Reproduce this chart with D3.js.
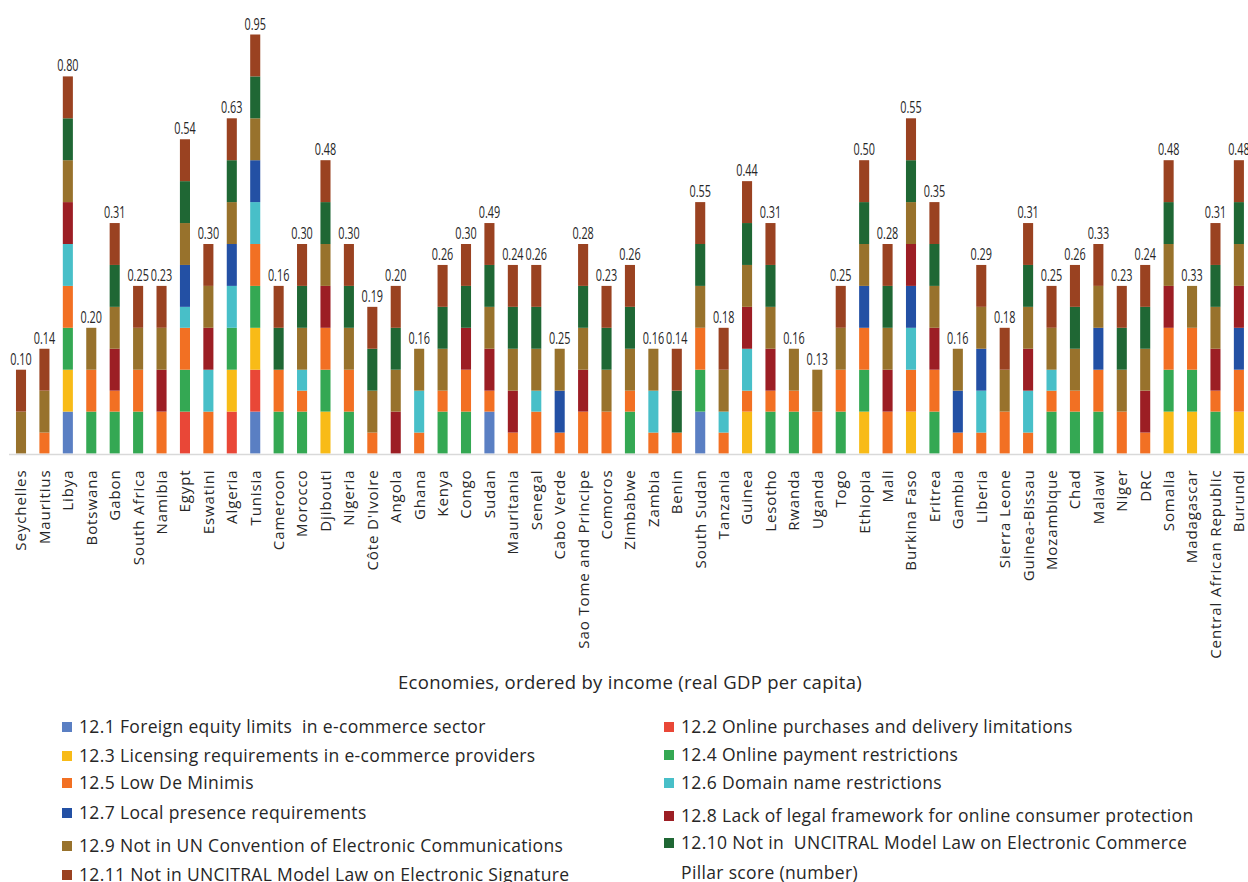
<!DOCTYPE html>
<html>
<head>
<meta charset="utf-8">
<script src="https://cdn.jsdelivr.net/npm/d3@7"></script>
<style>
  html, body { margin: 0; padding: 0; background: #fff; overflow: hidden; }
  svg { display: block; }
</style>
</head>
<body>
<svg id="chart" width="1248" height="882"></svg>
<script>
// Economies, ordered by income (real GDP per capita)
const countries = [
  "Seychelles", "Mauritius", "Libya", "Botswana", "Gabon", "South Africa", "Namibia", "Egypt",
  "Eswatini", "Algeria", "Tunisia", "Cameroon", "Morocco", "Djibouti", "Nigeria", "Côte D'Ivoire",
  "Angola", "Ghana", "Kenya", "Congo", "Sudan", "Mauritania", "Senegal", "Cabo Verde",
  "Sao Tome and Principe", "Comoros", "Zimbabwe", "Zambia", "Benin", "South Sudan", "Tanzania",
  "Guinea", "Lesotho", "Rwanda", "Uganda", "Togo", "Ethiopia", "Mali", "Burkina Faso", "Eritrea",
  "Gambia", "Liberia", "Sierra Leone", "Guinea-Bissau", "Mozambique", "Chad", "Malawi", "Niger",
  "DRC", "Somalia", "Madagascar", "Central African Republic", "Burundi"
];

// Pillar score (number), printed above each stack
const pillarScore = [
  0.10, 0.14, 0.80, 0.20, 0.31, 0.25, 0.23, 0.54, 0.30, 0.63, 0.95, 0.16, 0.30, 0.48, 0.30, 0.19,
  0.20, 0.16, 0.26, 0.30, 0.49, 0.24, 0.26, 0.25, 0.28, 0.23, 0.26, 0.16, 0.14, 0.55, 0.18, 0.44,
  0.31, 0.16, 0.13, 0.25, 0.50, 0.28, 0.55, 0.35, 0.16, 0.29, 0.18, 0.31, 0.25, 0.26, 0.33, 0.23,
  0.24, 0.48, 0.33, 0.31, 0.48
];

// Indicator scores per economy (1 = full restriction, 0.5 = partial)
const ind12_1 = [0,0,1,0,0,0,0,0,0,0, 1,0,0,0,0,0,0,0,0,0, 1,0,0,0,0,0,0,0,0,1, 0,0,0,0,0,0,0,0,0,0, 0,0,0,0,0,0,0,0,0,0, 0,0,0];
const ind12_2 = [0,0,0,0,0,0,0,1,0,1, 1,0,0,0,0,0,0,0,0,0, 0,0,0,0,0,0,0,0,0,0, 0,0,0,0,0,0,0,0,0,0, 0,0,0,0,0,0,0,0,0,0, 0,0,0];
const ind12_3 = [0,0,1,0,0,0,0,0,0,1, 1,0,0,1,0,0,0,0,0,0, 0,0,0,0,0,0,0,0,0,0, 0,1,0,0,0,0,1,0,1,0, 0,0,0,0,0,0,0,0,0,1, 1,0,1];
const ind12_4 = [0,0,1,1,1,1,0,1,0,1, 1,1,1,1,1,0,0,0,1,1, 0,0,0,0,0,0,1,0,0,1, 0,0,1,1,0,1,1,0,0,1, 0,0,0,0,1,1,1,0,0,1, 1,1,0];
const ind12_5 = [0,0.5,1,1,0.5,1,1,1,1,0, 1,1,0.5,1,1,0.5,0,0.5,0.5,1, 0.5,0.5,1,0.5,1,1,0.5,0.5,0.5,1, 0.5,0.5,0.5,0.5,1,1,1,1,1,1, 0.5,0.5,1,0.5,0.5,0.5,1,1,0.5,1, 1,0.5,1];
const ind12_6 = [0,0,1,0,0,0,0,0.5,1,1, 1,0,0.5,0,0,0,0,1,0,0, 0,0,0.5,0,0,0,0,1,0,0, 0.5,1,0,0,0,0,0,0,1,0, 0,1,0,1,0.5,0,0,0,0,0, 0,0,0];
const ind12_7 = [0,0,0,0,0,0,0,1,0,1, 1,0,0,0,0,0,0,0,0,0, 0,0,0,1,0,0,0,0,0,0, 0,0,0,0,0,0,1,0,1,0, 1,1,0,0,0,0,1,0,0,0, 0,0,1];
const ind12_8 = [0,0,1,0,1,0,1,0,1,0, 0,0,0,1,0,0,1,0,0,1, 1,1,0,0,1,0,0,0,0,0, 0,1,1,0,0,0,0,1,1,1, 0,0,0,1,0,0,0,0,1,1, 0,1,1];
const ind12_9 = [1,1,1,1,1,1,1,1,1,1, 1,0,1,1,1,1,1,1,1,0, 1,1,1,1,1,1,1,1,0,1, 1,1,1,1,1,1,1,1,1,1, 1,1,1,1,1,1,1,1,1,1, 1,1,1];
const ind12_10 = [0,0,1,0,1,0,0,1,0,1, 1,1,1,1,1,1,1,0,1,1, 1,1,1,0,1,1,1,0,1,1, 0,1,1,0,0,0,1,1,1,1, 0,0,0,1,0,1,0,1,1,1, 0,1,1];
const ind12_11 = [1,1,1,0,1,1,1,1,1,1, 1,1,1,1,1,1,1,0,1,1, 1,1,1,0,1,1,1,0,1,1, 1,1,1,0,0,1,1,1,1,1, 0,1,1,1,1,1,1,1,1,1, 0,1,1];

const indicatorKeys = ["12.1","12.2","12.3","12.4","12.5","12.6","12.7","12.8","12.9","12.10","12.11"];
const indicatorValues = [ind12_1, ind12_2, ind12_3, ind12_4, ind12_5, ind12_6, ind12_7, ind12_8, ind12_9, ind12_10, ind12_11];
const indicatorLabels = [
  "12.1 Foreign equity limits  in e-commerce sector",
  "12.2 Online purchases and delivery limitations",
  "12.3 Licensing requirements in e-commerce providers",
  "12.4 Online payment restrictions",
  "12.5 Low De Minimis",
  "12.6 Domain name restrictions",
  "12.7 Local presence requirements",
  "12.8 Lack of legal framework for online consumer protection",
  "12.9 Not in UN Convention of Electronic Communications",
  "12.10 Not in  UNCITRAL Model Law on Electronic Commerce",
  "12.11 Not in UNCITRAL Model Law on Electronic Signature"
];
const indicatorColors = [
  "#5a7fc3", "#e94737", "#f8bb17", "#34a853", "#f27023", "#48bfc8",
  "#2350a4", "#9c1e24", "#98722c", "#1f6734", "#9a4221"
];
const xTitle = "Economies, ordered by income (real GDP per capita)";
const scoreLabel = "Pillar score (number)";

const svg = d3.select("#chart");

const x = d3.scaleBand()
  .domain(countries)
  .range([9.3, 1250.6])
  .paddingInner(0.57)
  .paddingOuter(0.285);

const y = d3.scaleLinear().domain([0, 10]).range([453.5, 34.5]);

const colour = d3.scaleOrdinal().domain(indicatorKeys).range(indicatorColors);

const rows = countries.map((c, i) => {
  const r = { country: c, score: pillarScore[i] };
  indicatorKeys.forEach((k, j) => { r[k] = indicatorValues[j][i]; });
  return r;
});

const stacked = d3.stack().keys(indicatorKeys)(rows);

// stacked bars
svg.append("g")
  .selectAll("g")
  .data(stacked)
  .join("g")
    .attr("fill", d => colour(d.key))
  .selectAll("rect")
  .data(d => d.filter(s => s[1] > s[0]))
  .join("rect")
    .attr("x", d => x(d.data.country))
    .attr("width", x.bandwidth())
    .attr("y", d => y(d[1]))
    .attr("height", d => y(d[0]) - y(d[1]));

// category axis
const axis = svg.append("g")
  .attr("transform", `translate(0,${y(0) + 1})`)
  .call(d3.axisBottom(x).tickSize(0).tickPadding(0));
axis.select(".domain")
  .attr("d", `M9,0H1248`)
  .attr("stroke", "#d9d9d9")
  .attr("stroke-width", 1.5);
axis.selectAll(".tick text")
  .attr("transform", "rotate(-90)")
  .attr("x", -15)
  .attr("y", 0)
  .attr("dy", "0.36em")
  .attr("text-anchor", "end")
  .attr("fill", "#262626")
  .style("font-family", "'Open Sans', sans-serif")
  .style("font-size", "15px")
  .style("letter-spacing", "0.9px");

// pillar score labels above each stack
const totals = rows.map(r => d3.sum(indicatorKeys, k => r[k]));
svg.append("g")
  .selectAll("text")
  .data(rows)
  .join("text")
    .attr("transform", (d, i) => `translate(${x(d.country) + x.bandwidth() / 2},${y(totals[i]) - 5}) scale(0.7,1)`)
    .attr("text-anchor", "middle")
    .attr("fill", "#262626")
    .style("font-family", "'Open Sans', sans-serif")
    .style("font-size", "15.5px")
    .text(d => d3.format(".2f")(d.score));

// x title
svg.append("text")
  .attr("x", 630)
  .attr("y", 689)
  .attr("text-anchor", "middle")
  .attr("fill", "#262626")
  .style("font-family", "'Open Sans', sans-serif")
  .style("font-size", "18.5px")
  .style("letter-spacing", "0.3px")
  .text(xTitle);

// legend: two columns
const legendRowsY = [[727, 756, 783, 813, 846, 875], [727, 755, 783, 816, 843, 873]];
const legendItems = indicatorKeys.map((k, i) => ({
  label: indicatorLabels[i],
  colour: indicatorColors[i],
  col: i % 2,
  row: Math.floor(i / 2)
}));
legendItems.push({ label: scoreLabel, colour: null, col: 1, row: 5 });

const colX = [62, 664];
const legend = svg.append("g")
  .style("font-family", "'Open Sans', sans-serif")
  .style("font-size", "17.5px")
  .style("letter-spacing", "0.35px");
const li = legend.selectAll("g")
  .data(legendItems)
  .join("g")
    .attr("transform", d => `translate(${colX[d.col]},${legendRowsY[d.col][d.row]})`);
li.filter(d => d.colour)
  .append("rect")
    .attr("x", 0).attr("y", -5)
    .attr("width", 10).attr("height", 10)
    .attr("fill", d => d.colour);
li.append("text")
  .attr("x", 17)
  .attr("dy", "0.35em")
  .attr("fill", "#262626")
  .style("white-space", "pre")
  .text(d => d.label);
</script>
</body>
</html>
